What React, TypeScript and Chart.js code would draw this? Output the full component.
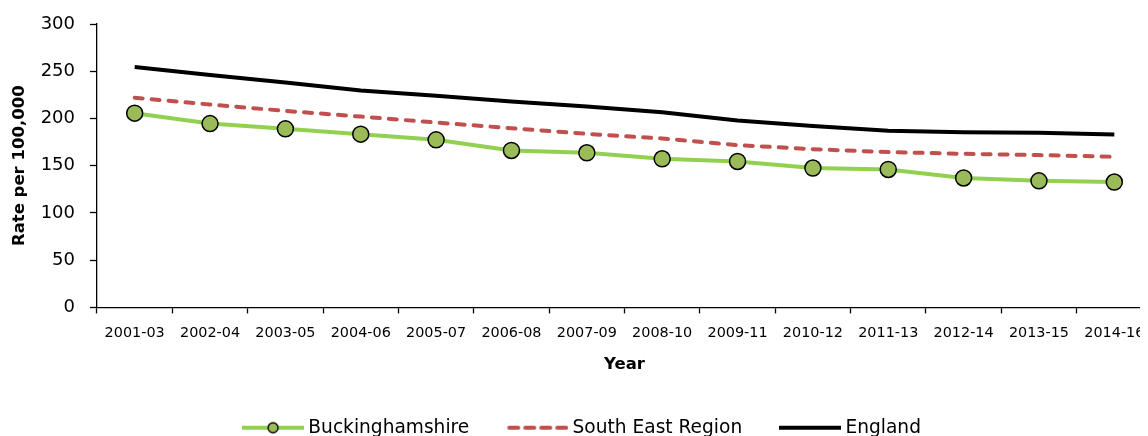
import React, { useEffect, useRef } from "react";
import { Chart, registerables } from "chart.js";

Chart.register(...registerables);

// Three-year rolling periods
const periods = [
  "2001-03", "2002-04", "2003-05", "2004-06", "2005-07", "2006-08", "2007-09",
  "2008-10", "2009-11", "2010-12", "2011-13", "2012-14", "2013-15", "2014-16",
];

// Rate per 100,000
const buckinghamshire = [205.6, 194.6, 189, 183.4, 177.4, 166.1, 163.7, 157.3, 154.5, 147.5, 146, 137, 134, 132.7];
const southEastRegion = [222, 214.7, 208, 202, 195.7, 189.7, 183.7, 178.8, 171.8, 167.5, 164.4, 162.6, 161.2, 159.5];
const england = [254.5, 246, 238, 229.5, 224, 218, 212.6, 206.6, 197.8, 192, 187, 185.5, 184.8, 183];

const yMin = 0;
const yMax = 300;
const yStep = 50;

const seriesNames = ["Buckinghamshire", "South East Region", "England"];

const FONT = "'DejaVu Sans', sans-serif";
const GREEN_LINE = "#92D050";
const GREEN_MARKER = "#9BBB59";
const RED = "#C0504D";

function makeSymbol(draw: (ctx: CanvasRenderingContext2D) => void): HTMLCanvasElement {
  const c = document.createElement("canvas");
  c.width = 62;
  c.height = 18;
  const ctx = c.getContext("2d")!;
  draw(ctx);
  return c;
}

// Nudges the legend row slightly to the right of the canvas centre
const legendShift = {
  id: "legendShift",
  afterLayout(chart: any) {
    if (chart.legend) {
      chart.legend.left += 4;
      chart.legend.right += 4;
    }
  },
};

export default function App() {
  const ref = useRef<HTMLCanvasElement>(null);

  useEffect(() => {
    if (!ref.current) return;

    // Legend keys: line with marker, dashed line, solid line
    const symbols = [
      makeSymbol((ctx) => {
        ctx.strokeStyle = GREEN_LINE;
        ctx.lineWidth = 4;
        ctx.beginPath();
        ctx.moveTo(0, 9);
        ctx.lineTo(62, 9);
        ctx.stroke();
        ctx.beginPath();
        ctx.arc(31, 9, 5, 0, Math.PI * 2);
        ctx.fillStyle = GREEN_MARKER;
        ctx.fill();
        ctx.lineWidth = 1.3;
        ctx.strokeStyle = "#000";
        ctx.stroke();
      }),
      makeSymbol((ctx) => {
        ctx.strokeStyle = RED;
        ctx.lineWidth = 4;
        ctx.lineCap = "round";
        for (let i = 0; i < 4; i++) {
          ctx.beginPath();
          ctx.moveTo(3 + i * 16, 9);
          ctx.lineTo(3 + i * 16 + 9, 9);
          ctx.stroke();
        }
      }),
      makeSymbol((ctx) => {
        ctx.strokeStyle = "#000";
        ctx.lineWidth = 4;
        ctx.beginPath();
        ctx.moveTo(0, 9);
        ctx.lineTo(62, 9);
        ctx.stroke();
      }),
    ];

    const chart = new Chart(ref.current, {
      type: "line",
      data: {
        labels: periods,
        datasets: [
          {
            label: seriesNames[0],
            data: buckinghamshire,
            borderColor: GREEN_LINE,
            borderWidth: 4,
            pointRadius: 8,
            pointBackgroundColor: GREEN_MARKER,
            pointBorderColor: "#000",
            pointBorderWidth: 1.5,
            tension: 0,
          },
          {
            label: seriesNames[1],
            data: southEastRegion,
            borderColor: RED,
            borderWidth: 4,
            borderDash: [8, 9],
            borderCapStyle: "round",
            pointRadius: 0,
            tension: 0,
          },
          {
            label: seriesNames[2],
            data: england,
            borderColor: "#000",
            borderWidth: 4,
            pointRadius: 0,
            tension: 0,
          },
        ],
      },
      plugins: [legendShift],
      options: {
        animation: false,
        responsive: false,
        maintainAspectRatio: false,
        layout: { autoPadding: false, padding: { top: 16, right: 16, left: 0, bottom: 0 } },
        plugins: {
          tooltip: { enabled: false },
          legend: {
            position: "bottom",
            labels: {
              usePointStyle: true,
              pointStyleWidth: 52,
              padding: 42,
              color: "#000",
              font: { family: FONT, size: 18.6 },
              generateLabels: () =>
                seriesNames.map((name, i) => ({
                  text: name,
                  pointStyle: symbols[i],
                  fillStyle: "transparent",
                  strokeStyle: "transparent",
                  lineWidth: 0,
                  hidden: false,
                  datasetIndex: i,
                  fontColor: "#000",
                })),
            },
          },
        },
        scales: {
          x: {
            offset: true,
            afterFit: (scale: any) => {
              scale.height = 69;
              scale.paddingLeft = 0;
              scale.paddingRight = 0;
            },
            border: { display: true, color: "#000", width: 1.3 },
            grid: {
              display: true,
              drawOnChartArea: false,
              offset: true,
              tickLength: 6,
              color: "#000",
              tickColor: "#000",
              tickWidth: 1.3,
            },
            ticks: {
              color: "#000",
              padding: 11,
              maxRotation: 0,
              autoSkip: false,
              font: { family: FONT, size: 14.4 },
            },
            title: {
              display: true,
              text: "Year",
              color: "#000",
              padding: { top: 0, bottom: 2 },
              font: { family: FONT, size: 16.5, weight: "bold" },
            },
          },
          y: {
            min: yMin,
            max: yMax,
            afterFit: (scale: any) => {
              scale.width = 89;
              scale.paddingTop = 0;
              scale.paddingBottom = 0;
            },
            border: { display: true, color: "#000", width: 1.3 },
            grid: {
              display: true,
              drawOnChartArea: false,
              tickLength: 7,
              color: "#000",
              tickColor: "#000",
              tickWidth: 1.3,
            },
            ticks: {
              stepSize: yStep,
              color: "#000",
              padding: 15,
              font: { family: FONT, size: 18 },
            },
            title: {
              display: true,
              text: "Rate per 100,000",
              color: "#000",
              padding: { top: 2, bottom: 0 },
              font: { family: FONT, size: 16.5, weight: "bold" },
            },
          },
        },
      },
    });

    return () => chart.destroy();
  }, []);

  return (
    <div style={{ width: 1140, height: 428, overflow: "hidden" }}>
      <canvas
        ref={ref}
        width={1160}
        height={439}
        style={{ display: "block", width: 1160, height: 439 }}
      />
    </div>
  );
}
